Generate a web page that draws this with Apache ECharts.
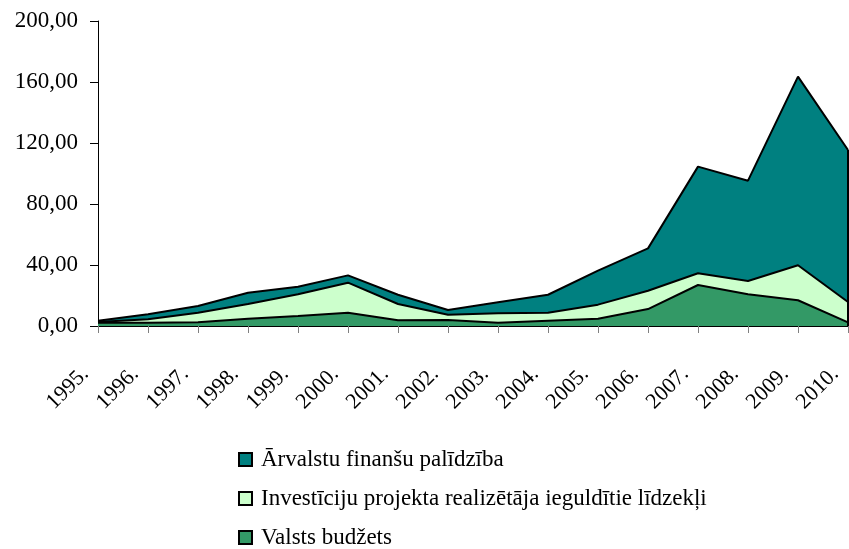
<!DOCTYPE html>
<html>
<head>
<meta charset="utf-8">
<script src="https://cdn.jsdelivr.net/npm/echarts@6/dist/echarts.min.js"></script>
<style>
  html, body { margin: 0; padding: 0; background: #fff; }
  #main { width: 849px; height: 549px; }
</style>
</head>
<body>
<div id="main"></div>
<script>
// years on the x axis
const years = ["1995.", "1996.", "1997.", "1998.", "1999.", "2000.", "2001.", "2002.",
  "2003.", "2004.", "2005.", "2006.", "2007.", "2008.", "2009.", "2010."];

// stacked from the bottom up
const valstsBudzets = [2.2, 2.2, 2.4, 4.8, 6.6, 8.7, 3.7, 3.9, 2.2, 3.5, 4.8, 11.1, 26.9, 20.8, 16.9, 2.4];
const investicijas = [0.4, 2.2, 6.3, 9.6, 14.2, 19.7, 10.7, 3.5, 6.1, 5.2, 9.2, 12.0, 7.7, 8.7, 22.9, 13.3];
const arvalstu = [0.9, 3.3, 4.4, 7.4, 5.0, 4.8, 6.1, 3.1, 7.2, 11.8, 22.3, 27.8, 69.9, 65.8, 123.7, 99.7];

const seriesNames = [
  "Ārvalstu finanšu palīdzība",
  "Investīciju projekta realizētāja ieguldītie līdzekļi",
  "Valsts budžets",
];

const font = "'Liberation Serif', 'DejaVu Serif', serif";

function areaSeries(name, data, color) {
  return {
    name: name,
    type: "line",
    stack: "total",
    data: data,
    symbol: "none",
    smooth: false,
    lineStyle: { color: "#000", width: 2 },
    itemStyle: { color: color, borderColor: "#000", borderWidth: 1 },
    areaStyle: { color: color, opacity: 1 },
  };
}

// closing edge of the stacked area at the last year
const last = years.length - 1;
const lastTotal = valstsBudzets[last] + investicijas[last] + arvalstu[last];

var chartDom = document.getElementById("main");
var myChart = echarts.init(chartDom);

const topSeries = areaSeries(seriesNames[0], arvalstu, "#008080");
topSeries.markLine = {
  silent: true,
  symbol: "none",
  label: { show: false },
  lineStyle: { color: "#000", width: 2, type: "solid" },
  data: [[{ coord: [years[last], 0] }, { coord: [years[last], lastTotal] }]],
};

var option = {
  animation: false,
  backgroundColor: "#fff",
  textStyle: { fontFamily: font, color: "#000" },
  grid: { left: 98, right: 1, top: 21, bottom: 223 },
  legend: {
    orient: "vertical",
    left: 238,
    top: 448,
    padding: 0,
    itemWidth: 13,
    itemHeight: 13,
    itemGap: 16,
    icon: "rect",
    data: seriesNames,
    textStyle: { fontFamily: font, fontSize: 23, color: "#000", padding: [0, 0, 0, 4] },
  },
  xAxis: {
    type: "category",
    data: years,
    boundaryGap: false,
    axisLine: { lineStyle: { color: "#000", width: 1 } },
    axisTick: { show: true, interval: 0, length: 7, lineStyle: { color: "#808080" } },
    axisLabel: {
      interval: 0,
      rotate: 45,
      margin: 32,
      padding: [0, 18, 0, 0],
      fontFamily: font,
      fontSize: 22,
      color: "#000",
    },
  },
  yAxis: {
    type: "value",
    min: 0,
    max: 200,
    interval: 40,
    splitLine: { show: false },
    axisLine: { show: true, lineStyle: { color: "#000", width: 1 } },
    axisTick: { show: true, length: 8, lineStyle: { color: "#000" } },
    axisLabel: {
      margin: 20,
      fontFamily: font,
      fontSize: 23,
      color: "#000",
      formatter: (v) => v.toFixed(2).replace(".", ","),
    },
  },
  series: [
    areaSeries(seriesNames[2], valstsBudzets, "#339966"),
    areaSeries(seriesNames[1], investicijas, "#CCFFCC"),
    topSeries,
  ],
};

option && myChart.setOption(option);
</script>
</body>
</html>
